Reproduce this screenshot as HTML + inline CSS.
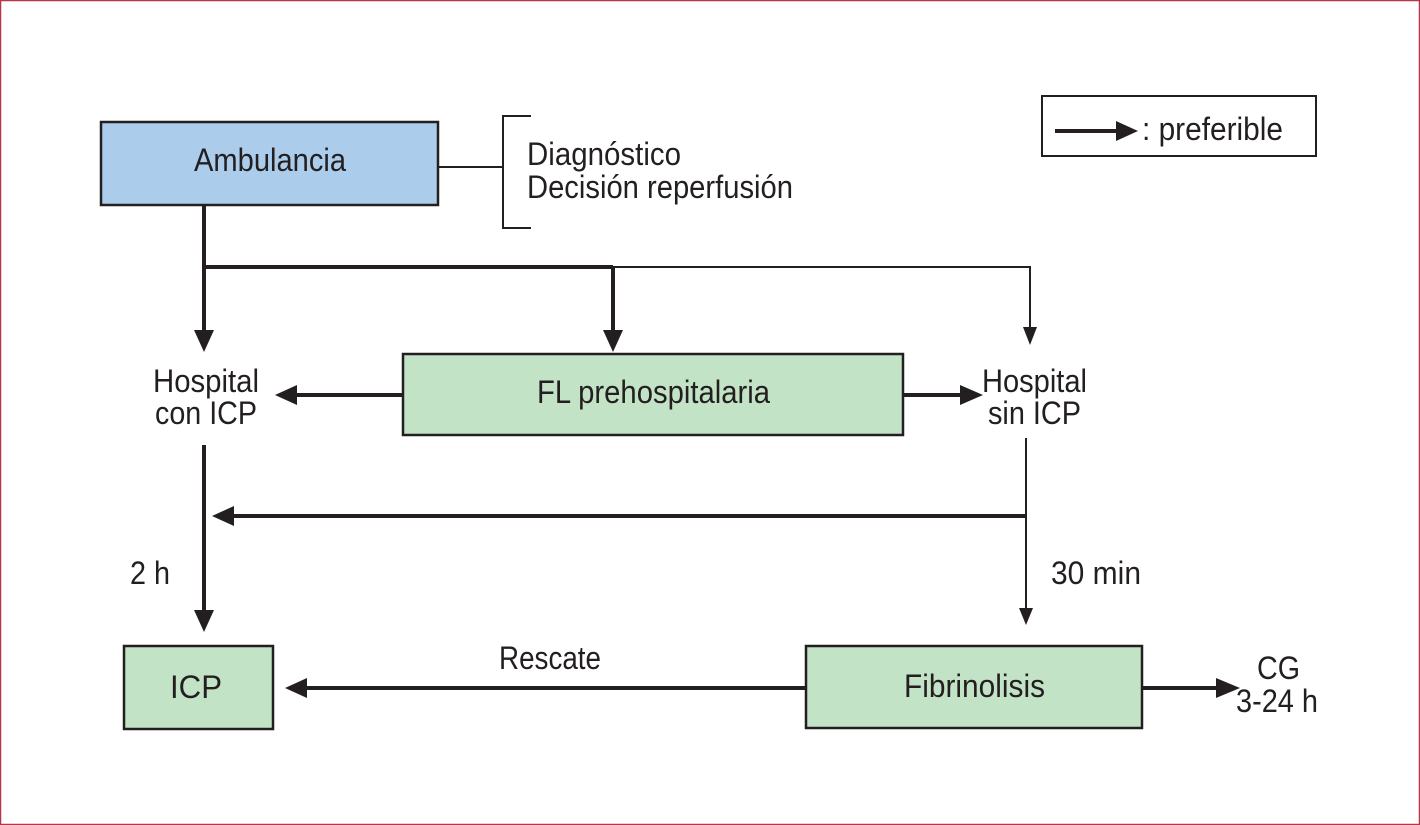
<!DOCTYPE html>
<html><head><meta charset="utf-8"><style>
html,body{margin:0;padding:0;background:#fff}
svg{display:block}
text{font-family:"Liberation Sans",sans-serif;fill:#231f20}
</style></head><body>
<svg width="1420" height="825" viewBox="0 0 1420 825" xmlns="http://www.w3.org/2000/svg">
<rect x="0.5" y="0.5" width="1419" height="824" fill="#fff" stroke="#b5364a" stroke-width="1.5"/>
<g stroke="#231f20" fill="none">
<rect x="101" y="122" width="337" height="83" fill="#abcdeb" stroke-width="2.5"/>
<line x1="438" y1="167" x2="503" y2="167" stroke-width="2"/>
<polyline points="531,116 503,116 503,228 531,228" stroke-width="2"/>
<line x1="204" y1="205" x2="204" y2="332" stroke-width="4"/>
<line x1="204" y1="267" x2="613" y2="267" stroke-width="4"/>
<line x1="613" y1="267" x2="613" y2="332" stroke-width="4"/>
<polyline points="613,267 1030,267 1030,330" stroke-width="2"/>
<rect x="403" y="354" width="500" height="81" fill="#c3e3c6" stroke-width="2.5"/>
<line x1="403" y1="395" x2="295" y2="395" stroke-width="4"/>
<line x1="903" y1="395" x2="962" y2="395" stroke-width="4"/>
<line x1="204" y1="445" x2="204" y2="612" stroke-width="4"/>
<line x1="1026" y1="438" x2="1026" y2="608" stroke-width="2"/>
<line x1="1026" y1="516" x2="232" y2="516" stroke-width="4"/>
<rect x="124" y="646" width="149" height="83" fill="#c3e3c6" stroke-width="2.5"/>
<rect x="806" y="646" width="336" height="82" fill="#c3e3c6" stroke-width="2.5"/>
<line x1="806" y1="688" x2="305" y2="688" stroke-width="4"/>
<line x1="1142" y1="688" x2="1218" y2="688" stroke-width="4"/>
<rect x="1042" y="96" width="274" height="60" stroke-width="2"/>
<line x1="1055" y1="131" x2="1118" y2="131" stroke-width="4"/>
</g>
<g fill="#231f20">
<polygon points="194,330 214,330 204,352"/>
<polygon points="603,330 623,330 613,352"/>
<polygon points="1023,327 1037,327 1030,345"/>
<polygon points="297,385 297,405 275,395"/>
<polygon points="960,385 960,405 983,395"/>
<polygon points="194,610 214,610 204,632"/>
<polygon points="1019,608 1033,608 1026,625"/>
<polygon points="234,506 234,526 212,516"/>
<polygon points="307,678 307,698 285,688"/>
<polygon points="1216,678 1216,698 1240,688"/>
<polygon points="1116,121 1116,141 1138,131"/>
</g>
<g font-size="32">
<text x="194" y="171" textLength="152" lengthAdjust="spacingAndGlyphs">Ambulancia</text>
<text x="527" y="165" textLength="154" lengthAdjust="spacingAndGlyphs">Diagnóstico</text>
<text x="527" y="198" textLength="266" lengthAdjust="spacingAndGlyphs">Decisión reperfusión</text>
<text x="537" y="403" textLength="233" lengthAdjust="spacingAndGlyphs">FL prehospitalaria</text>
<text x="153" y="392" textLength="106" lengthAdjust="spacingAndGlyphs">Hospital</text>
<text x="155" y="424" textLength="102" lengthAdjust="spacingAndGlyphs">con ICP</text>
<text x="982" y="392" textLength="105" lengthAdjust="spacingAndGlyphs">Hospital</text>
<text x="988" y="424" textLength="93" lengthAdjust="spacingAndGlyphs">sin ICP</text>
<text x="130" y="584" textLength="40" lengthAdjust="spacingAndGlyphs">2 h</text>
<text x="1051" y="584" textLength="90" lengthAdjust="spacingAndGlyphs">30 min</text>
<text x="170" y="698" textLength="52" lengthAdjust="spacingAndGlyphs">ICP</text>
<text x="904" y="697" textLength="141" lengthAdjust="spacingAndGlyphs">Fibrinolisis</text>
<text x="499" y="669" textLength="102" lengthAdjust="spacingAndGlyphs">Rescate</text>
<text x="1257" y="679" textLength="43" lengthAdjust="spacingAndGlyphs">CG</text>
<text x="1236" y="712" textLength="82" lengthAdjust="spacingAndGlyphs">3-24 h</text>
<text x="1142" y="140" textLength="141" lengthAdjust="spacingAndGlyphs">: preferible</text>
</g>
</svg>
</body></html>
